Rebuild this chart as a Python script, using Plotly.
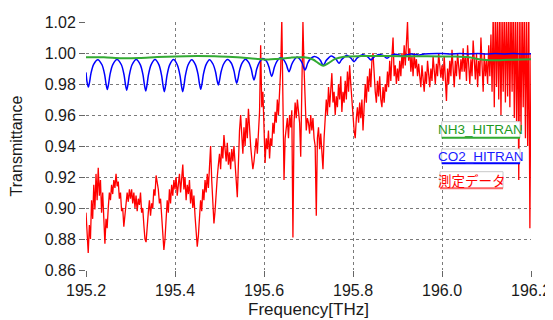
import numpy as np
import plotly.graph_objects as go

# ---------------- data ----------------
x_ticks = [195.2, 195.4, 195.6, 195.8, 196.0, 196.2]
x_tick_text = ["195.2", "195.4", "195.6", "195.8", "196.0", "196.2"]
y_ticks = [0.86, 0.88, 0.90, 0.92, 0.94, 0.96, 0.98, 1.00, 1.02]

# measured transmittance, sampled every 0.0025 THz from 195.2 to 196.2
meas_trans = [
    0.897, 0.884, 0.871, 0.889, 0.880, 0.905, 0.893, 0.915, 0.899, 0.922, 0.905, 0.926, 0.908, 0.918, 0.897, 0.910, 0.889, 0.877, 0.893, 0.887,
    0.900, 0.910, 0.905, 0.915, 0.909, 0.918, 0.913, 0.922, 0.914, 0.917, 0.906, 0.910, 0.898, 0.900, 0.888, 0.896, 0.902, 0.910, 0.904, 0.912,
    0.906, 0.912, 0.903, 0.910, 0.900, 0.908, 0.898, 0.906, 0.902, 0.910, 0.897, 0.900, 0.889, 0.880, 0.878, 0.890, 0.897, 0.905, 0.895, 0.903,
    0.900, 0.912, 0.908, 0.921, 0.916, 0.912, 0.903, 0.906, 0.895, 0.885, 0.873, 0.880, 0.893, 0.905, 0.897, 0.912, 0.903, 0.915, 0.908, 0.918,
    0.912, 0.920, 0.908, 0.915, 0.922, 0.910, 0.918, 0.928, 0.912, 0.920, 0.905, 0.915, 0.909, 0.918, 0.903, 0.912, 0.900, 0.908, 0.895, 0.885,
    0.875, 0.882, 0.893, 0.905, 0.898, 0.912, 0.905, 0.918, 0.910, 0.922, 0.913, 0.925, 0.940, 0.918, 0.905, 0.890, 0.898, 0.912, 0.920, 0.928,
    0.935, 0.925, 0.940, 0.932, 0.947, 0.938, 0.930, 0.942, 0.928, 0.936, 0.925, 0.938, 0.930, 0.940, 0.925, 0.918, 0.907, 0.930, 0.950, 0.960,
    0.945, 0.935, 0.952, 0.940, 0.958, 0.945, 0.964, 0.950, 0.940, 0.932, 0.925, 0.930, 0.938, 0.945, 0.935, 0.950, 0.962, 1.005, 0.965, 0.975,
    0.955, 0.929, 0.945, 0.938, 0.950, 0.932, 0.945, 0.940, 0.955, 0.948, 0.962, 0.955, 0.970, 0.960, 0.975, 0.990, 1.022, 0.965, 0.918, 0.945,
    0.950, 0.958, 0.945, 0.960, 0.952, 0.963, 0.881, 0.955, 0.968, 0.958, 0.970, 0.962, 0.955, 0.933, 0.985, 1.020, 0.990, 0.960, 0.950, 0.958,
    0.955, 0.948, 0.960, 0.950, 0.958, 0.945, 0.940, 0.895, 0.945, 0.952, 0.938, 0.948, 0.935, 0.925, 0.945, 0.958, 0.970, 0.960, 0.978, 0.965,
    0.975, 0.987, 0.968, 0.975, 0.960, 0.972, 0.965, 0.980, 0.970, 0.985, 0.962, 0.975, 0.968, 0.982, 0.970, 0.988, 0.975, 0.992, 0.980, 0.965,
    0.960, 0.950, 0.945, 0.958, 0.965, 0.955, 0.968, 0.958, 0.970, 0.950, 0.972, 0.980, 0.968, 0.985, 0.975, 0.990, 0.978, 0.995, 1.000, 0.982,
    0.975, 0.968, 0.982, 0.972, 0.985, 0.970, 0.965, 0.978, 0.968, 0.980, 0.975, 0.988, 0.978, 0.995, 0.982, 0.998, 1.010, 0.985, 0.992, 0.980,
    0.990, 0.982, 0.995, 0.985, 1.000, 0.990, 1.005, 0.992, 1.012, 1.020, 0.995, 1.003, 0.988, 0.998, 0.985, 1.000, 0.990, 0.996, 0.985, 0.993,
    0.985, 0.978, 0.992, 0.983, 0.975, 0.988, 0.980, 0.995, 0.985, 0.978, 0.990, 0.982, 0.998, 0.988, 0.980, 0.993, 0.985, 1.000, 0.990, 0.984,
    0.992, 0.982, 0.998, 0.985, 0.969, 0.990, 0.980, 0.995, 0.985, 1.002, 0.988, 0.978, 0.995, 0.985, 1.000, 0.990, 0.983, 0.996, 0.988, 1.003,
    0.988, 0.998, 0.982, 1.005, 0.990, 0.980, 0.996, 0.985, 1.008, 0.992, 0.983, 1.000, 0.978, 0.995, 0.985, 1.010, 0.990, 0.975, 1.000, 0.985,
    0.995, 0.980, 1.005, 0.985, 1.012, 0.975, 1.025, 0.965, 1.030, 0.978, 1.025, 0.970, 1.030, 0.960, 1.025, 0.975, 1.030, 0.968, 1.028, 0.972,
    1.030, 0.965, 1.030, 0.975, 1.030, 0.958, 1.030, 0.956, 1.030, 0.918, 1.030, 0.950, 1.030, 0.965, 1.030, 0.945, 1.030, 0.940, 1.030, 0.887, 1.000,
]
meas_freq = np.linspace(195.2, 196.2, len(meas_trans))

co2_freq = [
    195.2000, 195.2022, 195.2052, 195.2082, 195.2112, 195.2172, 195.2266,
    195.2359, 195.2419, 195.2449, 195.2479, 195.2509, 195.2539, 195.2599, 195.2697,
    195.2795, 195.2855, 195.2885, 195.2915, 195.2945, 195.2975, 195.3035, 195.3128,
    195.3222, 195.3282, 195.3312, 195.3342, 195.3372, 195.3402, 195.3462, 195.3551,
    195.3640, 195.3700, 195.3730, 195.3760, 195.3790, 195.3820, 195.3880, 195.3967,
    195.4053, 195.4113, 195.4143, 195.4173, 195.4203, 195.4233, 195.4293, 195.4376,
    195.4458, 195.4518, 195.4548, 195.4578, 195.4608, 195.4638, 195.4698, 195.4776,
    195.4853, 195.4913, 195.4943, 195.4973, 195.5003, 195.5033, 195.5093, 195.5180,
    195.5267, 195.5327, 195.5357, 195.5387, 195.5417, 195.5447, 195.5507, 195.5581,
    195.5655, 195.5715, 195.5745, 195.5775, 195.5805, 195.5835, 195.5895, 195.5974,
    195.6053, 195.6113, 195.6143, 195.6173, 195.6203, 195.6233, 195.6293, 195.6368,
    195.6442, 195.6502, 195.6532, 195.6562, 195.6592, 195.6622, 195.6682, 195.6742,
    195.6801, 195.6861, 195.6891, 195.6921, 195.6951, 195.6981, 195.7041, 195.7127,
    195.7213, 195.7273, 195.7303, 195.7333, 195.7363, 195.7393, 195.7453, 195.7509,
    195.7565, 195.7625, 195.7655, 195.7685, 195.7715, 195.7745, 195.7805, 195.7854,
    195.7902, 195.7962, 195.7992, 195.8022, 195.8052, 195.8082, 195.8142, 195.8213,
    195.8284, 195.8344, 195.8374, 195.8404, 195.8434, 195.8464, 195.8524, 195.8584,
    195.8644, 195.8704, 195.8734, 195.8764, 195.8794, 195.8824, 195.8884, 195.8942,
    195.9060, 195.9120, 195.9180, 195.9300,
    195.9420, 195.9480, 195.9540, 195.9700,
    196.0000, 196.0200, 196.0400, 196.0600, 196.0800, 196.1000, 196.1200, 196.1400,
    196.1600, 196.1800, 196.2000,
]
co2_trans = [
    0.9875, 0.9815, 0.9780, 0.9815, 0.9869, 0.9927, 0.9957,
    0.9924, 0.9861, 0.9803, 0.9765, 0.9803, 0.9861, 0.9924, 0.9958,
    0.9924, 0.9859, 0.9800, 0.9760, 0.9800, 0.9859, 0.9924, 0.9958,
    0.9923, 0.9857, 0.9796, 0.9755, 0.9796, 0.9857, 0.9923, 0.9958,
    0.9923, 0.9854, 0.9792, 0.9750, 0.9792, 0.9854, 0.9923, 0.9958,
    0.9923, 0.9854, 0.9792, 0.9750, 0.9792, 0.9854, 0.9923, 0.9957,
    0.9925, 0.9862, 0.9804, 0.9766, 0.9804, 0.9862, 0.9925, 0.9957,
    0.9929, 0.9876, 0.9827, 0.9794, 0.9827, 0.9876, 0.9929, 0.9958,
    0.9934, 0.9883, 0.9836, 0.9805, 0.9836, 0.9883, 0.9934, 0.9960,
    0.9940, 0.9895, 0.9853, 0.9826, 0.9853, 0.9895, 0.9940, 0.9965,
    0.9948, 0.9908, 0.9872, 0.9848, 0.9872, 0.9908, 0.9948, 0.9970,
    0.9957, 0.9926, 0.9898, 0.9879, 0.9898, 0.9926, 0.9957, 0.9975,
    0.9962, 0.9934, 0.9907, 0.9890, 0.9907, 0.9934, 0.9962, 0.9978,
    0.9969, 0.9950, 0.9932, 0.9920, 0.9932, 0.9950, 0.9969, 0.9980,
    0.9974, 0.9958, 0.9944, 0.9934, 0.9944, 0.9958, 0.9974, 0.9985,
    0.9979, 0.9965, 0.9952, 0.9944, 0.9952, 0.9965, 0.9979, 0.9988,
    0.9983, 0.9972, 0.9962, 0.9955, 0.9962, 0.9972, 0.9983, 0.9990,
    0.9987, 0.9979, 0.9971, 0.9966, 0.9971, 0.9979, 0.9987, 0.9992,
    0.9985, 0.9978, 0.9986, 0.9994,
    0.9990, 0.9986, 0.9991, 0.9995,
    0.9996, 0.9993, 0.9996, 0.9994, 0.9996, 0.9993, 0.9996, 0.9994,
    0.9996, 0.9993, 0.9995,
]

nh3_freq = [195.20, 195.24, 195.28, 195.32, 195.36, 195.40, 195.45, 195.50, 195.54, 195.58,
            195.61, 195.63, 195.66, 195.69, 195.71, 195.722, 195.733, 195.745, 195.76, 195.78,
            195.82, 195.88, 195.94, 196.00, 196.03, 196.06, 196.08, 196.10, 196.13, 196.16, 196.20]
nh3_trans = [0.9972, 0.9972, 0.9966, 0.9968, 0.9974, 0.9978, 0.9980, 0.9978, 0.9972, 0.9963,
             0.9958, 0.9962, 0.9970, 0.9972, 0.9958, 0.9935, 0.9918, 0.9935, 0.9962, 0.9976,
             0.9980, 0.9980, 0.9979, 0.9978, 0.9977, 0.9972, 0.9962, 0.9955, 0.9954, 0.9957, 0.9960]

legend_names = ["NH3_HITRAN", "CO2_HITRAN", "測定データ"]

# ---------------- styling ----------------
RED = "#ff0000"
BLUE = "#0000ff"
GREEN = "#33aa33"
FONT = "Liberation Sans, Arial, sans-serif"
JFONT = "Noto Sans CJK JP, sans-serif"

fig = go.Figure()
fig.add_trace(go.Scatter(x=meas_freq, y=meas_trans, mode="lines",
                         line=dict(color=RED, width=1.3), name=legend_names[2]))
fig.add_trace(go.Scatter(x=co2_freq, y=co2_trans, mode="lines",
                         line=dict(color=BLUE, width=1.5, shape="spline", smoothing=0.8),
                         name=legend_names[1]))
fig.add_trace(go.Scatter(x=nh3_freq, y=nh3_trans, mode="lines",
                         line=dict(color=GREEN, width=2, shape="spline", smoothing=0.8),
                         name=legend_names[0]))

axis_common = dict(showgrid=True, gridcolor="#7a7a7a", griddash="dot", gridwidth=1,
                   zeroline=False, showline=False, ticks="outside", ticklen=6,
                   tickcolor="#666", tickwidth=1, automargin=False,
                   tickfont=dict(family=FONT, size=16, color="#1a1a1a"))

# page body has an 8px margin, so the figure is sized to fill the remaining window
fig.update_layout(
    width=545, height=312,
    margin=dict(l=78, r=22, t=14, b=50),
    paper_bgcolor="white", plot_bgcolor="white",
    showlegend=False,
    xaxis=dict(range=[195.2, 196.2], tickvals=x_ticks, ticktext=x_tick_text,
               title=dict(text="Frequency[THz]", font=dict(family=FONT, size=17, color="#1a1a1a"),
                          standoff=4),
               **axis_common),
    yaxis=dict(range=[0.86, 1.02], tickvals=y_ticks, tickformat=".2f",
               title=dict(text="Transmittance", font=dict(family=FONT, size=16, color="#1a1a1a"),
                          standoff=18),
               **axis_common),
)

# legend boxes (paper coordinates)
boxes = [
    (legend_names[0], GREEN, "#1f9a1f", 0.7993, 0.9753, 0.5335, 0.5980, FONT),
    (legend_names[1], BLUE, "#1a1aff", 0.7993, 0.9753, 0.4302, 0.4879, FONT),
    (legend_names[2], "#ff6666", RED, 0.7955, 0.9371, 0.3294, 0.3964, JFONT),
]
for name, ucol, tcol, x0, x1, y0, y1, fam in boxes:
    fig.add_shape(type="rect", xref="paper", yref="paper", x0=x0, x1=x1, y0=y0, y1=y1,
                  line=dict(color="#c8c8c8", width=1), fillcolor="white", layer="above")
    fig.add_shape(type="line", xref="paper", yref="paper", x0=x0, x1=x1, y0=y0, y1=y0,
                  line=dict(color=ucol, width=2), layer="above")
    fig.add_annotation(xref="paper", yref="paper", x=(x0 + x1) / 2, y=(y0 + y1) / 2,
                       text=name, showarrow=False, xanchor="center", yanchor="middle",
                       font=dict(family=fam, size=13.5, color=tcol))

fig.write_html("out.html")
